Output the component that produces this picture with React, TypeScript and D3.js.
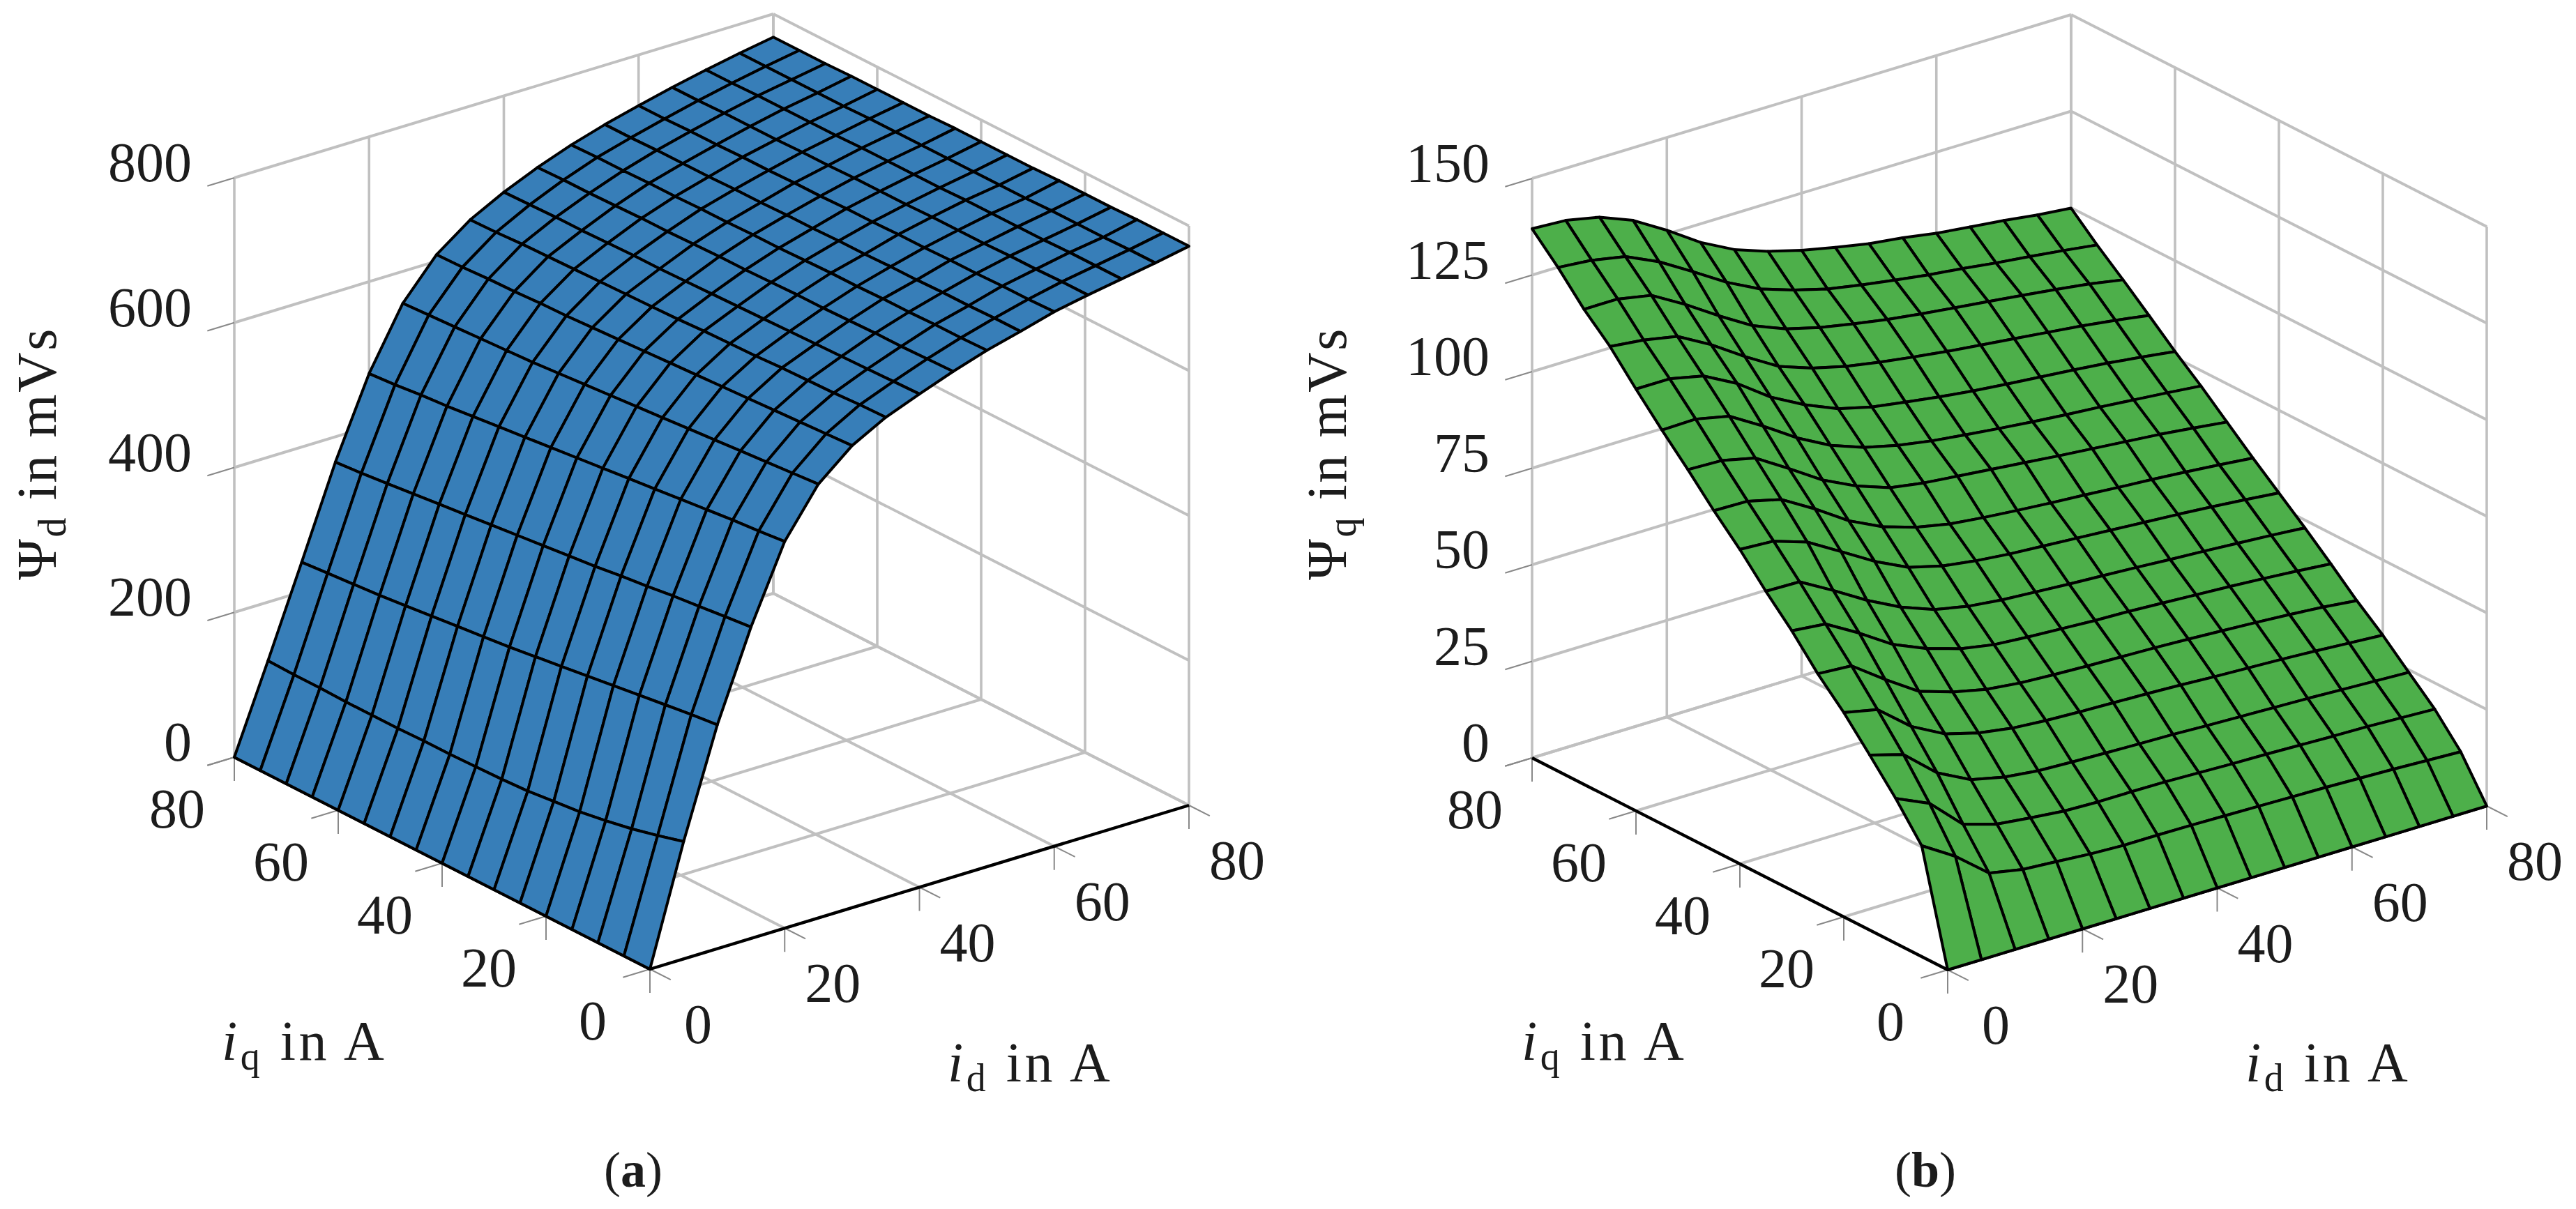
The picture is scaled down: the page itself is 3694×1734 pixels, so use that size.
import React, { useEffect, useRef } from 'react';
import * as d3 from 'd3';

const idGrid = d3.range(0, 85, 5);
const iqGrid = d3.range(0, 85, 5);
const currentTicks = [0, 20, 40, 60, 80];
const psiDTicks = [0, 200, 400, 600, 800];
const psiQTicks = [0, 25, 50, 75, 100, 125, 150];

// psiD[idIndex][iqIndex]
const psiD = [
  [0, 0, 0, 0, 0, 0, 0, 0, 0, 0, 0, 0, 0, 0, 0, 0, 0],
  [162, 152, 143, 136, 130, 126, 122, 120, 119, 118, 118, 117, 117, 117, 118, 118, 119],
  [309, 305, 300, 295, 290, 285, 280, 275, 270, 266, 262, 258, 254, 250, 247, 244, 241],
  [430, 426, 422, 418, 413, 409, 404, 400, 396, 392, 388, 384, 380, 376, 372, 368, 365],
  [534, 530, 527, 523, 519, 515, 511, 507, 503, 499, 495, 491, 487, 483, 480, 476, 473],
  [599, 596, 593, 590, 587, 584, 581, 578, 575, 572, 569, 566, 564, 562, 560, 558, 556],
  [638, 636, 634, 632, 630, 628, 626, 624, 622, 620, 618, 616, 615, 613, 612, 610, 609],
  [663, 662, 660, 659, 658, 656, 655, 654, 652, 651, 650, 649, 648, 647, 646, 644, 643],
  [681, 680, 679, 678, 677, 676, 675, 674, 673, 672, 671, 671, 670, 669, 669, 668, 667],
  [698, 697, 696, 696, 695, 694, 694, 693, 692, 692, 691, 690, 690, 689, 688, 688, 687],
  [713, 712, 712, 711, 711, 710, 710, 709, 708, 708, 707, 707, 706, 706, 705, 705, 704],
  [725, 725, 724, 724, 723, 723, 722, 722, 721, 721, 720, 720, 719, 719, 719, 718, 718],
  [738, 737, 737, 736, 736, 735, 735, 734, 734, 733, 733, 732, 732, 731, 731, 730, 730],
  [747, 747, 746, 746, 745, 745, 745, 744, 744, 744, 743, 743, 742, 742, 742, 741, 741],
  [755, 755, 755, 754, 754, 754, 754, 753, 753, 753, 753, 752, 752, 752, 752, 751, 751],
  [763, 763, 762, 762, 762, 761, 761, 761, 761, 761, 761, 761, 760, 760, 760, 760, 760],
  [772, 772, 772, 771, 771, 771, 770, 770, 770, 770, 769, 769, 769, 769, 768, 768, 768],
];

// psiQ[iqIndex][idIndex]
const psiQ = [
  [0, 0, 0, 0, 0, 0, 0, 0, 0, 0, 0, 0, 0, 0, 0, 0, 0],
  [28.7, 23.3, 16.3, 14.6, 14, 13.3, 12.9, 12.9, 12.8, 12.6, 12.4, 12.2, 12, 11.7, 11.4, 11, 10.6],
  [37.5, 33.6, 25.5, 22.9, 21.9, 21, 20.7, 20.7, 20.6, 20.3, 20, 19.8, 19.5, 19.2, 19, 18.6, 18.2],
  [45.3, 42.8, 35.4, 31, 29, 28, 27.6, 27.3, 27, 26.8, 26.4, 26.1, 25.8, 25.5, 25.1, 24.7, 24.3],
  [52.9, 51, 44, 39.4, 37, 35.6, 34.9, 34.5, 34.2, 33.9, 33.5, 33, 32.6, 32.2, 31.7, 31.1, 30.5],
  [59.5, 58.9, 52.7, 47, 44.2, 42.2, 41.2, 40.7, 40.3, 40, 39.7, 39.3, 38.8, 38.3, 37.7, 37, 36],
  [67.2, 66.3, 61.3, 55.7, 52, 49.3, 47.7, 47, 46.5, 46, 45.7, 45.2, 44.7, 44.2, 43.6, 42.9, 42.1],
  [74, 73.8, 68.9, 63.7, 59.3, 56, 54.2, 53.2, 52.6, 52, 51.5, 51, 50.4, 49.9, 49.3, 48.7, 48],
  [81.4, 80.9, 78, 72.9, 67.7, 63.5, 61.2, 59.9, 59, 58.4, 57.8, 57.2, 56.6, 56, 55.3, 54.5, 53.6],
  [88, 87.8, 85.6, 80.5, 74.8, 70.6, 67.8, 66, 65, 64.2, 63.5, 62.9, 62.2, 61.6, 60.9, 60.1, 59.2],
  [95.2, 94.9, 92.9, 87.5, 81.9, 77.7, 74.6, 73.2, 72.3, 71.4, 70.5, 69.6, 68.8, 68, 67.2, 66.2, 65.1],
  [102, 102.2, 100.3, 95.1, 89.4, 84.8, 81.6, 79.5, 78, 76.9, 75.9, 75, 74.2, 73.5, 72.7, 71.9, 71],
  [109.2, 109.2, 107.3, 102.7, 96.5, 91.9, 88.2, 86, 84.6, 83.3, 82.2, 81.3, 80.5, 79.7, 78.8, 77.7, 76.5],
  [116.8, 115.8, 114.1, 109.3, 103.6, 98.4, 95.3, 93.1, 91.5, 90.2, 89, 88, 87, 86, 85, 83.8, 82.4],
  [123, 123, 121.3, 116.3, 110.7, 105.5, 102, 99.7, 98, 96.5, 95.3, 94.2, 93.2, 92.1, 91, 89.8, 88.2],
  [130.4, 129.6, 127.9, 123.9, 118.7, 113.3, 108.9, 106, 103.6, 102, 100.6, 99.3, 98.3, 97.1, 96.1, 95, 93.8],
  [137, 136.5, 134.7, 131.2, 126, 120.2, 115.7, 112.6, 110.2, 108.3, 106.6, 105.5, 104, 103, 102, 100.8, 99.9],
];

const FONT = '"Liberation Serif", serif';
const TEXT = '#1c1c1c';

// same oblique view in both panels
const idX = d3.scaleLinear().domain([0, 80]).range([0, 773]);
const idY = d3.scaleLinear().domain([0, 80]).range([0, -235]);
const iqX = d3.scaleLinear().domain([0, 80]).range([0, -596]);
const iqY = d3.scaleLinear().domain([0, 80]).range([0, -304]);

function drawPanel(svg, opts) {
  const { x0, y0, zMax, zTicks, values, fill, yLabelSub, yLabelX, caption, captionX, iqLabelX, idLabelX } = opts;
  const zPx = d3.scaleLinear().domain([0, zMax]).range([0, 831]);
  const project = (id, iq, z) => [x0 + idX(id) + iqX(iq), y0 + idY(id) + iqY(iq) - zPx(z)];
  const line = d3.line();
  const g = svg.append('g');

  const seg = (a, b, stroke, width) =>
    g.append('path').attr('d', line([a, b])).attr('fill', 'none').attr('stroke', stroke).attr('stroke-width', width);

  // back walls and floor
  const GRID = '#c0c0c0';
  currentTicks.forEach(t => {
    seg(project(t, 80, 0), project(t, 80, zMax), GRID, 3.6);
    seg(project(80, t, 0), project(80, t, zMax), GRID, 3.6);
    seg(project(t, 0, 0), project(t, 80, 0), GRID, 4);
    seg(project(0, t, 0), project(80, t, 0), GRID, 4);
  });
  zTicks.forEach(t => {
    seg(project(0, 80, t), project(80, 80, t), GRID, 4);
    seg(project(80, 80, t), project(80, 0, t), GRID, 4);
  });

  // tick marks
  const TICK = '#888888';
  const tickLen = 4;
  currentTicks.forEach(t => {
    const a = project(t, 0, 0);
    seg(a, [a[0], a[1] + 34], TICK, 2);
    seg(a, project(t, -tickLen, 0), TICK, 2);
    const b = project(0, t, 0);
    seg(b, [b[0], b[1] + 34], TICK, 2);
    seg(b, project(-tickLen, t, 0), TICK, 2);
  });
  zTicks.forEach(t => {
    seg(project(0, 80, t), project(-tickLen, 80, t), TICK, 2);
  });

  // axes
  seg(project(0, 0, 0), project(80, 0, 0), '#000', 4.4);
  seg(project(0, 0, 0), project(0, 80, 0), '#000', 4.4);

  // surface, far cells first
  const cells = [];
  for (let i = 0; i < idGrid.length - 1; i++) {
    for (let j = 0; j < iqGrid.length - 1; j++) cells.push([i, j]);
  }
  cells.sort((a, b) => (b[0] + b[1]) - (a[0] + a[1]));
  g.append('g').selectAll('path')
    .data(cells)
    .enter()
    .append('path')
    .attr('d', ([i, j]) => line([
      project(idGrid[i], iqGrid[j], values(i, j)),
      project(idGrid[i + 1], iqGrid[j], values(i + 1, j)),
      project(idGrid[i + 1], iqGrid[j + 1], values(i + 1, j + 1)),
      project(idGrid[i], iqGrid[j + 1], values(i, j + 1)),
    ]) + 'Z')
    .attr('fill', fill)
    .attr('stroke', '#000')
    .attr('stroke-width', 4)
    .attr('stroke-linejoin', 'round');

  const label = (x, y, str, anchor) =>
    g.append('text').attr('x', x).attr('y', y).attr('text-anchor', anchor)
      .attr('font-family', FONT).attr('font-size', 80).attr('fill', TEXT).text(str);

  zTicks.forEach(t => {
    const p = project(0, 80, t);
    label(p[0] - 61, p[1] + 5, t, 'end');
  });
  currentTicks.forEach(t => {
    const q = project(0, t, 0);
    label(q[0] - 82, q[1] + 101, t, 'middle');
    const d = project(t, 0, 0);
    label(d[0] + 69, d[1] + 106, t, 'middle');
  });

  const axisLabel = (x, y, sub) => {
    const tx = g.append('text').attr('x', x).attr('y', y)
      .attr('font-family', FONT).attr('font-size', 80).attr('fill', TEXT).attr('letter-spacing', 4.5);
    tx.append('tspan').attr('font-style', 'italic').text('i');
    tx.append('tspan').attr('font-size', 56).attr('dy', 14).text(sub);
    tx.append('tspan').attr('dy', -14).text(' in A');
  };
  axisLabel(iqLabelX, 1520, 'q');
  axisLabel(idLabelX, 1551, 'd');

  const yl = g.append('text')
    .attr('transform', `translate(${yLabelX},832) rotate(-90)`)
    .attr('font-family', FONT).attr('font-size', 80).attr('fill', TEXT).attr('letter-spacing', 2.5);
  yl.append('tspan').text('Ψ');
  yl.append('tspan').attr('font-size', 56).attr('dy', 14).text(yLabelSub);
  yl.append('tspan').attr('dy', -14).text(' in mVs');

  const cap = g.append('text').attr('x', captionX).attr('y', 1702).attr('text-anchor', 'middle')
    .attr('font-family', FONT).attr('font-size', 72).attr('fill', TEXT);
  cap.append('tspan').text('(');
  cap.append('tspan').attr('font-weight', 'bold').text(caption);
  cap.append('tspan').text(')');
}

export default function App() {
  const svgRef = useRef(null);

  useEffect(() => {
    document.body.style.margin = '0';
    const svg = d3.select(svgRef.current).html('');
    drawPanel(svg, {
      x0: 932, y0: 1390, zMax: 800, zTicks: psiDTicks,
      values: (i, j) => psiD[i][j],
      fill: '#377eb8', yLabelSub: 'd', yLabelX: 80,
      caption: 'a', captionX: 908, iqLabelX: 318, idLabelX: 1359,
    });
    drawPanel(svg, {
      x0: 2793, y0: 1391, zMax: 150, zTicks: psiQTicks,
      values: (i, j) => psiQ[j][i],
      fill: '#4daf4a', yLabelSub: 'q', yLabelX: 1930,
      caption: 'b', captionX: 2761, iqLabelX: 2182, idLabelX: 3220,
    });
  }, []);

  return <svg ref={svgRef} width={3694} height={1734} style={{ display: 'block', background: '#fff' }} />;
}
